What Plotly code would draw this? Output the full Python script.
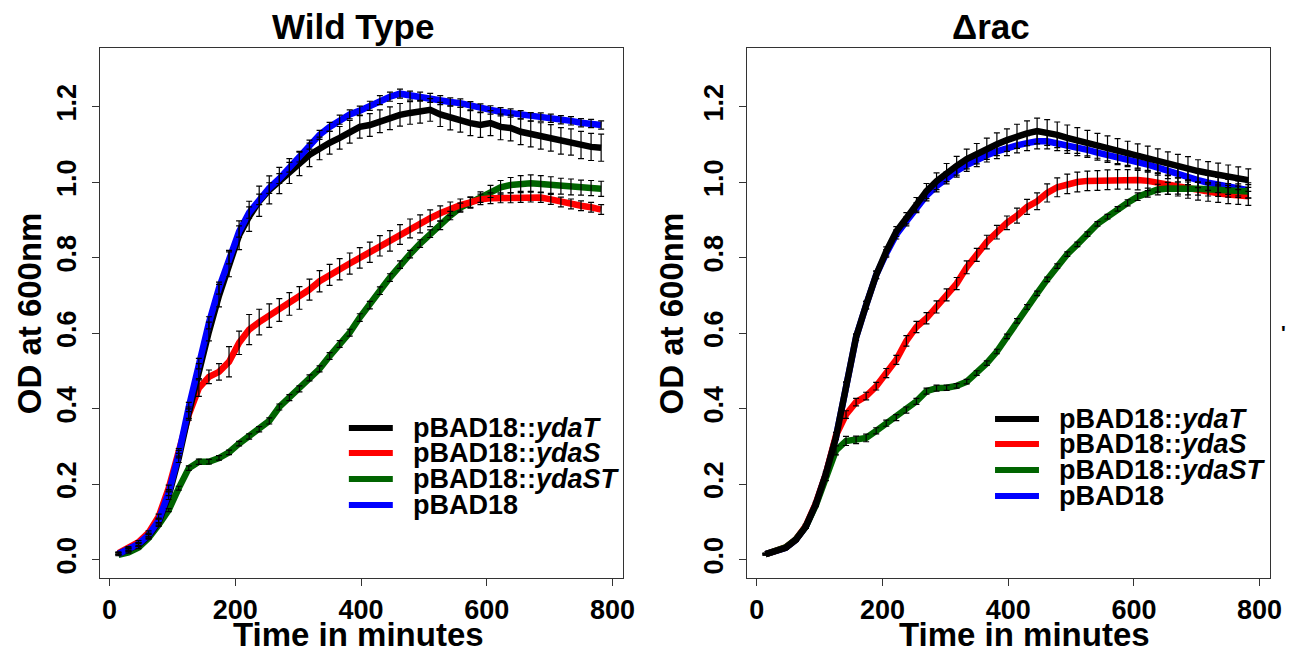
import plotly.graph_objects as go

# ---------------- data ----------------
TIME_MIN = [14, 30, 46, 62, 78, 94, 110, 126, 142, 158, 174, 190, 206, 222, 238, 254, 270, 286,
            302, 318, 334, 350, 366, 382, 398, 414, 430, 446, 462, 478, 494, 510, 526, 542, 558,
            574, 590, 606, 622, 638, 654, 670, 686, 702, 718, 734, 750, 766, 782]

SERIES_NAMES = ["pBAD18::<i>ydaT</i>", "pBAD18::<i>ydaS</i>", "pBAD18::<i>ydaST</i>", "pBAD18"]
SERIES_COLORS = ["#000000", "#FF0000", "#006400", "#0000FF"]

# Wild Type
wt_ydaT = [0.016, 0.028, 0.040, 0.063, 0.100, 0.170, 0.270, 0.390, 0.500, 0.605, 0.700, 0.785, 0.860,
           0.910, 0.950, 0.980, 1.005, 1.030, 1.050, 1.073, 1.090, 1.105, 1.118, 1.134, 1.147, 1.152,
           1.162, 1.170, 1.179, 1.184, 1.187, 1.192, 1.180, 1.171, 1.166, 1.157, 1.152, 1.157, 1.147,
           1.144, 1.134, 1.128, 1.123, 1.118, 1.110, 1.107, 1.099, 1.094, 1.092]
wt_ydaT_err = [0.003, 0.004, 0.005, 0.006, 0.008, 0.010, 0.012, 0.015, 0.020, 0.025, 0.030, 0.035, 0.038,
               0.040, 0.040, 0.037, 0.035, 0.033, 0.032, 0.031, 0.030, 0.030, 0.030, 0.030, 0.030, 0.030,
               0.030, 0.030, 0.030, 0.030, 0.030, 0.030, 0.032, 0.032, 0.033, 0.033, 0.033, 0.033, 0.034,
               0.034, 0.034, 0.034, 0.035, 0.035, 0.035, 0.035, 0.036, 0.036, 0.036]
wt_ydaS = [0.018, 0.032, 0.047, 0.072, 0.115, 0.190, 0.285, 0.385, 0.455, 0.485, 0.498, 0.525, 0.575,
           0.610, 0.630, 0.647, 0.662, 0.678, 0.694, 0.716, 0.738, 0.755, 0.770, 0.785, 0.800, 0.815,
           0.832, 0.845, 0.862, 0.878, 0.890, 0.905, 0.918, 0.930, 0.940, 0.947, 0.955, 0.958, 0.959,
           0.959, 0.960, 0.961, 0.960, 0.955, 0.948, 0.943, 0.938, 0.934, 0.928]
wt_ydaS_err = [0.003, 0.003, 0.004, 0.005, 0.006, 0.008, 0.010, 0.015, 0.022, 0.018, 0.022, 0.040, 0.031,
               0.040, 0.034, 0.031, 0.030, 0.030, 0.030, 0.028, 0.028, 0.028, 0.028, 0.028, 0.027, 0.027,
               0.027, 0.027, 0.026, 0.025, 0.024, 0.022, 0.020, 0.018, 0.016, 0.015, 0.014, 0.014, 0.013,
               0.013, 0.013, 0.013, 0.013, 0.013, 0.013, 0.013, 0.013, 0.013, 0.013]
wt_ydaST = [0.013, 0.020, 0.033, 0.058, 0.093, 0.132, 0.190, 0.243, 0.260, 0.260, 0.270, 0.285, 0.308,
            0.327, 0.346, 0.368, 0.405, 0.430, 0.453, 0.482, 0.506, 0.540, 0.572, 0.602, 0.642, 0.675,
            0.713, 0.748, 0.782, 0.810, 0.838, 0.864, 0.886, 0.912, 0.933, 0.947, 0.961, 0.976, 0.987,
            0.993, 0.997, 0.998, 0.996, 0.993, 0.990, 0.988, 0.986, 0.985, 0.983]
wt_ydaST_err = [0.002, 0.002, 0.003, 0.003, 0.004, 0.004, 0.005, 0.006, 0.007, 0.006, 0.006, 0.006, 0.006,
                0.007, 0.007, 0.008, 0.008, 0.008, 0.008, 0.008, 0.008, 0.009, 0.009, 0.009, 0.010, 0.010,
                0.010, 0.010, 0.010, 0.010, 0.010, 0.010, 0.011, 0.011, 0.012, 0.013, 0.014, 0.016, 0.018,
                0.020, 0.021, 0.022, 0.022, 0.022, 0.021, 0.021, 0.020, 0.020, 0.020]
wt_pBAD18 = [0.016, 0.028, 0.042, 0.066, 0.105, 0.178, 0.280, 0.405, 0.520, 0.628, 0.720, 0.800, 0.870,
             0.920, 0.955, 0.985, 1.010, 1.040, 1.067, 1.100, 1.126, 1.147, 1.166, 1.180, 1.190, 1.203,
             1.218, 1.227, 1.235, 1.230, 1.227, 1.224, 1.218, 1.213, 1.210, 1.203, 1.197, 1.192, 1.187,
             1.184, 1.179, 1.174, 1.173, 1.170, 1.166, 1.163, 1.158, 1.156, 1.152]
wt_pBAD18_err = [0.003, 0.003, 0.004, 0.005, 0.006, 0.008, 0.010, 0.012, 0.014, 0.016, 0.016, 0.016, 0.015,
                 0.015, 0.014, 0.014, 0.013, 0.013, 0.013, 0.012, 0.012, 0.012, 0.012, 0.012, 0.012, 0.012,
                 0.012, 0.012, 0.012, 0.012, 0.012, 0.012, 0.012, 0.011, 0.011, 0.011, 0.011, 0.011, 0.011,
                 0.011, 0.011, 0.011, 0.011, 0.011, 0.011, 0.011, 0.011, 0.011, 0.011]

# Delta rac
rac_ydaT = [0.015, 0.022, 0.032, 0.053, 0.088, 0.148, 0.228, 0.325, 0.465, 0.590, 0.675, 0.755, 0.817,
            0.870, 0.905, 0.942, 0.977, 1.003, 1.026, 1.044, 1.062, 1.076, 1.089, 1.101, 1.112, 1.122,
            1.130, 1.136, 1.132, 1.126, 1.118, 1.111, 1.104, 1.097, 1.090, 1.083, 1.077, 1.070, 1.064,
            1.057, 1.050, 1.043, 1.037, 1.030, 1.025, 1.021, 1.016, 1.011, 1.006]
rac_ydaT_err = [0.002, 0.002, 0.003, 0.003, 0.004, 0.004, 0.005, 0.005, 0.006, 0.008, 0.010, 0.010, 0.012,
                0.013, 0.015, 0.018, 0.020, 0.022, 0.024, 0.025, 0.026, 0.027, 0.028, 0.030, 0.030, 0.032,
                0.033, 0.034, 0.034, 0.034, 0.034, 0.034, 0.034, 0.033, 0.033, 0.033, 0.032, 0.032, 0.032,
                0.032, 0.031, 0.031, 0.031, 0.030, 0.030, 0.030, 0.030, 0.030, 0.030]
rac_ydaS = [0.015, 0.022, 0.033, 0.054, 0.090, 0.150, 0.228, 0.330, 0.385, 0.418, 0.434, 0.460, 0.495,
            0.530, 0.580, 0.617, 0.640, 0.670, 0.702, 0.732, 0.775, 0.808, 0.842, 0.868, 0.893, 0.912,
            0.935, 0.950, 0.972, 0.987, 0.996, 1.001, 1.004, 1.005, 1.007, 1.008, 1.008, 1.006, 1.004,
            0.999, 0.993, 0.988, 0.982, 0.977, 0.974, 0.971, 0.968, 0.966, 0.963]
rac_ydaS_err = [0.002, 0.002, 0.003, 0.003, 0.004, 0.004, 0.005, 0.008, 0.010, 0.010, 0.010, 0.010, 0.012,
                0.012, 0.014, 0.015, 0.015, 0.016, 0.016, 0.016, 0.017, 0.017, 0.018, 0.018, 0.018, 0.020,
                0.020, 0.022, 0.024, 0.025, 0.026, 0.026, 0.026, 0.026, 0.026, 0.026, 0.026, 0.026, 0.026,
                0.025, 0.025, 0.024, 0.024, 0.024, 0.024, 0.024, 0.024, 0.024, 0.024]
rac_ydaST = [0.015, 0.022, 0.033, 0.054, 0.088, 0.145, 0.215, 0.290, 0.315, 0.318, 0.323, 0.342, 0.362,
             0.377, 0.397, 0.420, 0.447, 0.455, 0.456, 0.461, 0.472, 0.495, 0.521, 0.552, 0.592, 0.633,
             0.670, 0.706, 0.743, 0.778, 0.810, 0.836, 0.863, 0.890, 0.909, 0.930, 0.946, 0.962, 0.973,
             0.981, 0.984, 0.985, 0.984, 0.983, 0.982, 0.981, 0.979, 0.978, 0.976]
rac_ydaST_err = [0.002, 0.002, 0.003, 0.003, 0.004, 0.004, 0.005, 0.012, 0.012, 0.010, 0.010, 0.008, 0.008,
                 0.008, 0.008, 0.008, 0.008, 0.008, 0.007, 0.006, 0.006, 0.006, 0.006, 0.006, 0.006, 0.006,
                 0.006, 0.006, 0.006, 0.006, 0.006, 0.006, 0.006, 0.006, 0.006, 0.006, 0.008, 0.010, 0.012,
                 0.014, 0.016, 0.016, 0.017, 0.017, 0.018, 0.018, 0.018, 0.018, 0.018]
rac_pBAD18 = [0.015, 0.022, 0.032, 0.053, 0.088, 0.148, 0.228, 0.325, 0.465, 0.590, 0.675, 0.755, 0.812,
              0.862, 0.897, 0.933, 0.965, 0.990, 1.012, 1.030, 1.046, 1.060, 1.072, 1.082, 1.091, 1.098,
              1.104, 1.109, 1.109, 1.104, 1.097, 1.091, 1.086, 1.079, 1.073, 1.067, 1.062, 1.055, 1.047,
              1.039, 1.030, 1.021, 1.014, 1.006, 0.999, 0.993, 0.988, 0.984, 0.979]
rac_pBAD18_err = [0.002, 0.002, 0.003, 0.003, 0.004, 0.004, 0.005, 0.005, 0.006, 0.008, 0.010, 0.010, 0.010,
                  0.012, 0.012, 0.013, 0.014, 0.015, 0.016, 0.016, 0.017, 0.018, 0.018, 0.019, 0.020, 0.020,
                  0.020, 0.020, 0.020, 0.020, 0.020, 0.020, 0.020, 0.020, 0.020, 0.020, 0.020, 0.020, 0.020,
                  0.020, 0.020, 0.020, 0.020, 0.020, 0.020, 0.020, 0.020, 0.020, 0.020]

X_TICKS = [0, 200, 400, 600, 800]
Y_TICKS = [0.0, 0.2, 0.4, 0.6, 0.8, 1.0, 1.2]
Y_TICK_TEXT = ["0.0", "0.2", "0.4", "0.6", "0.8", "1.0", "1.2"]
PANEL_TITLES = ["Wild Type", "\u0394rac"]
X_TITLE = "Time in minutes"
Y_TITLE = "OD at 600nm"

# ---------------- figure ----------------
W, H = 1294, 655
# empirical page-to-figure mapping (page margin / capture scaling compensation)
BX, SX = 6.7, 0.992
OFFY = 8
FONT = "Liberation Sans, Arial, Helvetica, sans-serif"

def px(x):
    return ((x - BX) / SX) / W

def py(y):
    return 1 - (y - OFFY) / H

fig = go.Figure()

wt = [(wt_ydaT, wt_ydaT_err), (wt_ydaS, wt_ydaS_err), (wt_ydaST, wt_ydaST_err), (wt_pBAD18, wt_pBAD18_err)]
rac = [(rac_ydaT, rac_ydaT_err), (rac_ydaS, rac_ydaS_err), (rac_ydaST, rac_ydaST_err), (rac_pBAD18, rac_pBAD18_err)]

panels = [
    ("x", "y", wt, [2, 1, 0, 3]),
    ("x2", "y2", rac, [3, 1, 2, 0]),
]

for xa, ya, data, order in panels:
    for i in order:
        vals, errs = data[i]
        fig.add_trace(go.Scatter(
            x=TIME_MIN, y=vals, mode="lines", xaxis=xa, yaxis=ya,
            line=dict(color=SERIES_COLORS[i], width=6.5),
            showlegend=False, hoverinfo="skip"))
    for i in order:
        vals, errs = data[i]
        fig.add_trace(go.Scatter(
            x=TIME_MIN, y=vals, mode="markers", xaxis=xa, yaxis=ya,
            marker=dict(size=1, color="rgba(0,0,0,0)"),
            error_y=dict(type="data", array=errs, visible=True, color="#000000",
                         thickness=1.2, width=3),
            showlegend=False, hoverinfo="skip"))

axis_common = dict(showgrid=False, zeroline=False, showline=True, mirror=True,
                   linecolor="#333333", linewidth=1.3, ticks="outside", ticklen=7,
                   tickwidth=1.3, tickcolor="#333333",
                   tickfont=dict(family=FONT, size=27, color="#000000", weight="bold"))

fig.update_layout(
    width=W, height=H,
    margin=dict(l=0, r=0, t=0, b=0),
    plot_bgcolor="white", paper_bgcolor="white",
    showlegend=False,
    xaxis=dict(domain=[px(99), px(622)], range=[-15, 816], tickvals=X_TICKS, anchor="y", **axis_common),
    yaxis=dict(domain=[py(578), py(48)], range=[-0.048, 1.356], tickvals=Y_TICKS, ticktext=Y_TICK_TEXT,
               tickangle=-90, anchor="x", ticklabelstandoff=5, **axis_common),
    xaxis2=dict(domain=[px(747), px(1270)], range=[-15, 816], tickvals=X_TICKS, anchor="y2", **axis_common),
    yaxis2=dict(domain=[py(578), py(48)], range=[-0.048, 1.356], tickvals=Y_TICKS, ticktext=Y_TICK_TEXT,
                tickangle=-90, anchor="x2", ticklabelstandoff=5, **axis_common),
)

ann = []
# panel titles
for txt, cx in zip(PANEL_TITLES, [352, 991]):
    ann.append(dict(text=txt, x=px(cx), y=py(27), xref="paper", yref="paper", showarrow=False,
                    xanchor="center", yanchor="middle",
                    font=dict(family=FONT, size=35, color="#000000", weight="bold")))
# x titles
for cx in [358, 1025]:
    ann.append(dict(text=X_TITLE, x=px(cx), y=py(634), xref="paper", yref="paper", showarrow=False,
                    xanchor="center", yanchor="middle",
                    font=dict(family=FONT, size=33, color="#000000", weight="bold")))
# y titles
for cx in [28, 671]:
    ann.append(dict(text=Y_TITLE, x=px(cx), y=py(313), xref="paper", yref="paper", showarrow=False,
                    xanchor="center", yanchor="middle", textangle=-90,
                    font=dict(family=FONT, size=33, color="#000000", weight="bold")))

# legends (drawn manually to match the compact R legend)
shapes = []
legend_specs = [
    (348, 392, 410, [428, 453, 479, 505]),
    (995, 1039, 1057, [419, 444, 470, 496]),
]
for x0, x1, tx, rows in legend_specs:
    for i, ry in enumerate(rows):
        shapes.append(dict(type="line", xref="paper", yref="paper", x0=px(x0), x1=px(x1),
                           y0=py(ry), y1=py(ry), line=dict(color=SERIES_COLORS[i], width=6)))
        ann.append(dict(text=SERIES_NAMES[i], x=px(tx), y=py(ry), xref="paper", yref="paper",
                        showarrow=False, xanchor="left", yanchor="middle",
                        font=dict(family=FONT, size=27, color="#000000", weight="bold")))

# small stray mark at right edge of the original figure
ann.append(dict(text="'", x=px(1284), y=py(333), xref="paper", yref="paper", showarrow=False,
                xanchor="center", yanchor="middle",
                font=dict(family=FONT, size=20, color="#000000", weight="bold")))

fig.update_layout(annotations=ann, shapes=shapes)

fig.write_html("out.html")
